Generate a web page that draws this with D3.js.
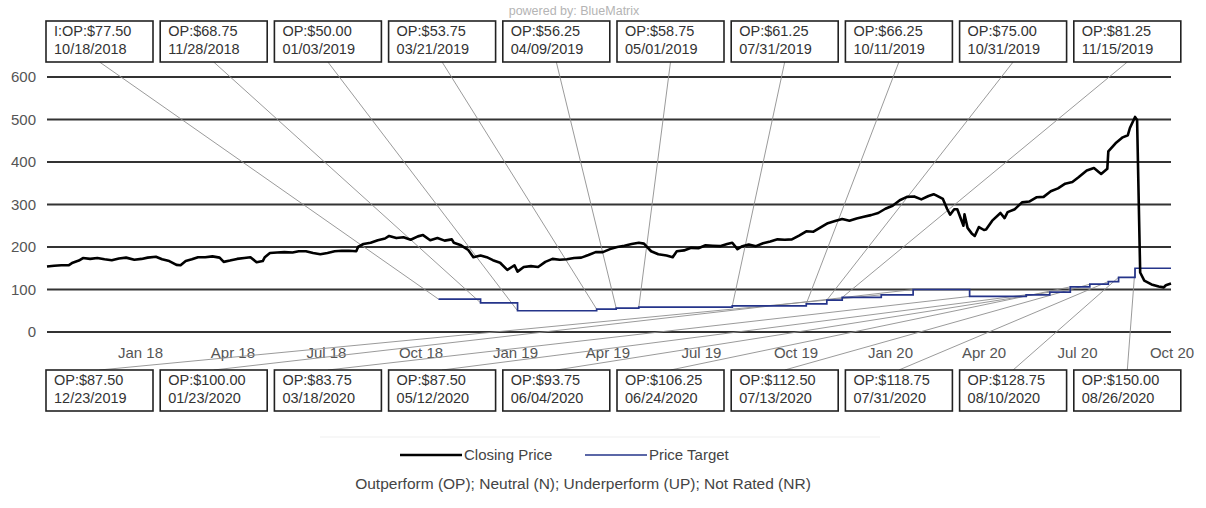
<!DOCTYPE html>
<html>
<head>
<meta charset="utf-8">
<script src="https://cdn.jsdelivr.net/npm/d3@7"></script>
<style>
  html, body { margin: 0; padding: 0; background: #fff; }
  svg { display: block; font-family: "Liberation Sans", Arial, sans-serif; }
</style>
</head>
<body>
<svg id="chart" width="1206" height="508"></svg>
<script>
// ---------- DATA ----------
const yTicks = [0, 100, 200, 300, 400, 500, 600];
const xTickLabels = ["Jan 18", "Apr 18", "Jul 18", "Oct 18", "Jan 19", "Apr 19", "Jul 19", "Oct 19", "Jan 20", "Apr 20", "Jul 20", "Oct 20"];
const xTickDates = ["2018-01-01", "2018-04-01", "2018-07-01", "2018-10-01", "2019-01-01", "2019-04-01", "2019-07-01", "2019-10-01", "2020-01-01", "2020-04-01", "2020-07-01", "2020-10-01"];

const ratingLabels = ["I:OP:$77.50", "OP:$68.75", "OP:$50.00", "OP:$53.75", "OP:$56.25", "OP:$58.75", "OP:$61.25", "OP:$66.25", "OP:$75.00", "OP:$81.25",
  "OP:$87.50", "OP:$100.00", "OP:$83.75", "OP:$87.50", "OP:$93.75", "OP:$106.25", "OP:$112.50", "OP:$118.75", "OP:$128.75", "OP:$150.00"];
const ratingDates = ["10/18/2018", "11/28/2018", "01/03/2019", "03/21/2019", "04/09/2019", "05/01/2019", "07/31/2019", "10/11/2019", "10/31/2019", "11/15/2019",
  "12/23/2019", "01/23/2020", "03/18/2020", "05/12/2020", "06/04/2020", "06/24/2020", "07/13/2020", "07/31/2020", "08/10/2020", "08/26/2020"];
const ratingTargets = [77.50, 68.75, 50.00, 53.75, 56.25, 58.75, 61.25, 66.25, 75.00, 81.25,
  87.50, 100.00, 83.75, 87.50, 93.75, 106.25, 112.50, 118.75, 128.75, 150.00];

const closeDates = [
  "2017-10-02","2017-10-09","2017-10-16","2017-10-23","2017-10-27","2017-11-02","2017-11-06","2017-11-13","2017-11-20","2017-11-27",
  "2017-12-04","2017-12-11","2017-12-18","2017-12-26","2018-01-02","2018-01-08","2018-01-16","2018-01-22","2018-01-29","2018-02-05",
  "2018-02-09","2018-02-14","2018-02-20","2018-02-26","2018-03-05","2018-03-12","2018-03-19","2018-03-23","2018-03-29","2018-04-05",
  "2018-04-12","2018-04-18","2018-04-24","2018-04-30","2018-05-02","2018-05-07","2018-05-14","2018-05-21","2018-05-29","2018-06-04",
  "2018-06-11","2018-06-18","2018-06-25","2018-07-02","2018-07-09","2018-07-16","2018-07-23","2018-07-30","2018-08-01","2018-08-06",
  "2018-08-13","2018-08-20","2018-08-27","2018-08-31","2018-09-07","2018-09-14","2018-09-21","2018-09-28","2018-10-03","2018-10-10",
  "2018-10-17","2018-10-24","2018-10-31","2018-11-02","2018-11-09","2018-11-16","2018-11-21","2018-11-28","2018-12-04","2018-12-10",
  "2018-12-17","2018-12-24","2018-12-31","2019-01-03","2019-01-09","2019-01-16","2019-01-23","2019-01-30","2019-02-06","2019-02-13",
  "2019-02-20","2019-02-27","2019-03-06","2019-03-13","2019-03-20","2019-03-27","2019-04-03","2019-04-10","2019-04-17","2019-04-24",
  "2019-05-01","2019-05-06","2019-05-13","2019-05-20","2019-05-28","2019-06-03","2019-06-07","2019-06-14","2019-06-21","2019-06-28",
  "2019-07-05","2019-07-12","2019-07-19","2019-07-26","2019-07-31","2019-08-05","2019-08-09","2019-08-16","2019-08-23","2019-08-30",
  "2019-09-06","2019-09-13","2019-09-20","2019-09-27","2019-10-04","2019-10-11","2019-10-18","2019-10-25","2019-11-01","2019-11-08",
  "2019-11-15","2019-11-22","2019-11-29","2019-12-06","2019-12-13","2019-12-20","2019-12-27","2020-01-03","2020-01-10","2020-01-17",
  "2020-01-24","2020-01-31","2020-02-07","2020-02-12","2020-02-14","2020-02-21","2020-02-25","2020-02-28","2020-03-03","2020-03-06",
  "2020-03-12","2020-03-13","2020-03-16","2020-03-20","2020-03-23","2020-03-27","2020-04-01","2020-04-03","2020-04-09","2020-04-17",
  "2020-04-21","2020-04-24","2020-05-01","2020-05-08","2020-05-15","2020-05-22","2020-05-29","2020-06-05","2020-06-12","2020-06-19",
  "2020-06-26","2020-07-02","2020-07-10","2020-07-17","2020-07-24","2020-07-30","2020-07-31","2020-08-07","2020-08-14","2020-08-19",
  "2020-08-21","2020-08-26","2020-08-28","2020-08-31","2020-09-04","2020-09-11","2020-09-18","2020-09-23","2020-09-25","2020-09-30"];
const closeValues = [
  154,156,157,157,163,168,174,172,174,171,
  169,173,175,170,172,175,177,171,167,158,
  157,167,171,176,176,178,175,165,168,172,
  174,176,164,167,176,186,187,188,187,190,
  190,186,183,186,190,191,191,190,201,207,
  210,216,220,226,221,223,217,225,228,216,
  221,215,218,210,204,193,176,180,176,169,
  163,146,157,142,153,155,153,165,172,170,
  171,174,175,181,188,188,195,200,203,207,
  210,208,190,183,180,176,190,192,198,197,
  204,203,202,207,210,195,201,206,202,209,
  213,218,217,218,227,237,236,246,256,261,
  266,262,267,271,275,280,290,297,310,318,
  319,312,320,324,322,313,290,276,289,289,
  250,277,245,232,226,247,240,241,262,280,
  268,282,289,305,307,317,318,331,338,349,
  353,364,380,386,372,384,425,444,458,463,
  480,506,499,140,121,112,107,105,110,114];

const chartStart = "2017-10-02";
const chartEnd = "2020-09-30";

// ---------- SETUP ----------
const svg = d3.select("#chart");
const parseISO = d3.timeParse("%Y-%m-%d");
const parseUS = d3.timeParse("%m/%d/%Y");

const x = d3.scaleTime().domain([parseISO(chartStart), parseISO(chartEnd)]).range([47, 1171]);
const y = d3.scaleLinear().domain([0, 600]).range([332, 77]);

// powered by
svg.append("text").attr("x", 574).attr("y", 15).attr("text-anchor", "middle")
  .attr("font-size", 12.5).attr("fill", "#b4b4b4").text("powered by: BlueMatrix");

// gridlines
svg.append("g").selectAll("line").data(yTicks).join("line")
  .attr("x1", x.range()[0]).attr("x2", x.range()[1])
  .attr("y1", d => y(d)).attr("y2", d => y(d))
  .attr("stroke", "#333").attr("stroke-width", 1.8);

// y labels
svg.append("g").selectAll("text").data(yTicks).join("text")
  .attr("x", 36).attr("y", d => y(d) + 5).attr("text-anchor", "end")
  .attr("font-size", 15).attr("fill", "#555").text(d => d);

// x labels
svg.append("g").selectAll("text").data(xTickDates).join("text")
  .attr("x", d => x(parseISO(d))).attr("y", 358).attr("text-anchor", "middle")
  .attr("font-size", 15).attr("fill", "#555").text((d, i) => xTickLabels[i]);

// boxes geometry
const boxW = 107, boxH = 41, boxStep = 114.2, boxX0 = 46;
const topY = 21, botY = 370;
const boxes = ratingLabels.map((lab, i) => {
  const top = i < 10;
  const k = top ? i : i - 10;
  const bx = boxX0 + k * boxStep;
  const by = top ? topY : botY;
  return {lab, date: ratingDates[i], bx, by,
    ax: bx + boxW / 2, ay: top ? by + boxH : by,
    tx: x(parseUS(ratingDates[i])), ty: y(ratingTargets[i])};
});

// connector lines
svg.append("g").selectAll("line").data(boxes).join("line")
  .attr("x1", d => d.ax).attr("y1", d => d.ay)
  .attr("x2", d => d.tx).attr("y2", d => d.ty)
  .attr("stroke", "#8f8f8f").attr("stroke-width", 0.9);

// price target step line
const targetPts = ratingDates.map((d, i) => [parseUS(d), ratingTargets[i]]);
targetPts.push([parseISO(chartEnd), ratingTargets[ratingTargets.length - 1]]);
svg.append("path").datum(targetPts)
  .attr("d", d3.line().x(d => x(d[0])).y(d => y(d[1])).curve(d3.curveStepAfter))
  .attr("fill", "none").attr("stroke", "#25348a").attr("stroke-width", 1.7);

// closing price
const closePts = closeDates.map((d, i) => [parseISO(d), closeValues[i]]);
svg.append("path").datum(closePts)
  .attr("d", d3.line().x(d => x(d[0])).y(d => y(d[1])))
  .attr("fill", "none").attr("stroke", "#000").attr("stroke-width", 2.6)
  .attr("stroke-linejoin", "round");

// boxes
const bg = svg.append("g").selectAll("g").data(boxes).join("g");
bg.append("rect").attr("x", d => d.bx).attr("y", d => d.by)
  .attr("width", boxW).attr("height", boxH)
  .attr("fill", "#fff").attr("stroke", "#222").attr("stroke-width", 1.6);
bg.append("text").attr("x", d => d.bx + 8).attr("y", d => d.by + 15)
  .attr("font-size", 14.5).attr("fill", "#333").text(d => d.lab);
bg.append("text").attr("x", d => d.bx + 8).attr("y", d => d.by + 33)
  .attr("font-size", 14.5).attr("fill", "#333").text(d => d.date);

// legend
svg.append("line").attr("x1", 320).attr("x2", 880).attr("y1", 437).attr("y2", 437)
  .attr("stroke", "#efefef").attr("stroke-width", 1);
const legend = [{label: "Closing Price", color: "#000", w: 2.6, x: 400},
                {label: "Price Target", color: "#25348a", w: 1.7, x: 585}];
const lg = svg.append("g").selectAll("g").data(legend).join("g");
lg.append("line").attr("x1", d => d.x).attr("x2", d => d.x + 62)
  .attr("y1", 455).attr("y2", 455).attr("stroke", d => d.color).attr("stroke-width", d => d.w);
lg.append("text").attr("x", d => d.x + 64).attr("y", 460)
  .attr("font-size", 15).attr("fill", "#444").text(d => d.label);

svg.append("text").attr("x", 583).attr("y", 489).attr("text-anchor", "middle")
  .attr("font-size", 15.5).attr("fill", "#444")
  .text("Outperform (OP); Neutral (N); Underperform (UP); Not Rated (NR)");
</script>
</body>
</html>
